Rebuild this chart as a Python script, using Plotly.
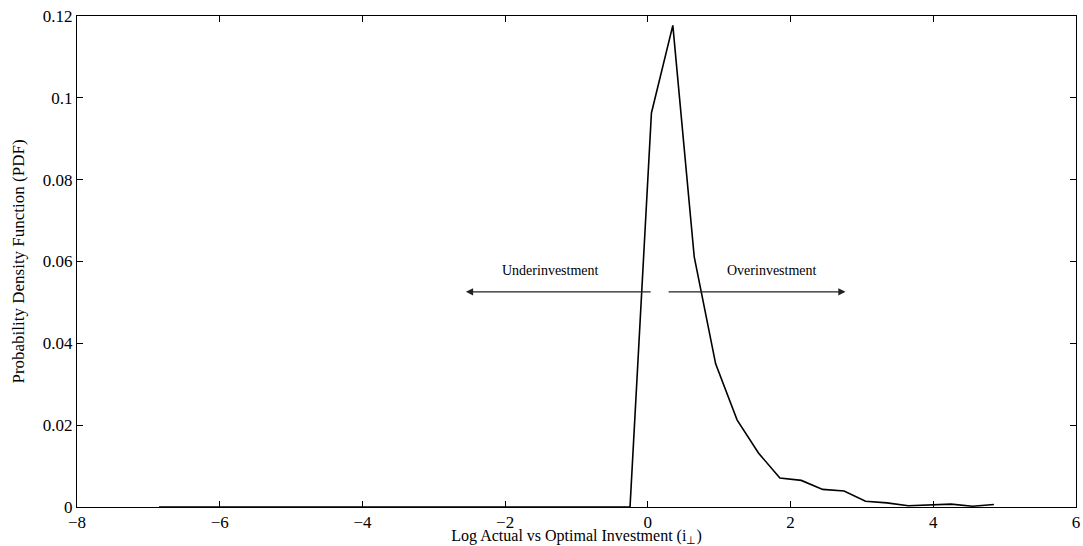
import plotly.graph_objects as go

x_vals = [-6.85, -6.55, -6.25, -5.95, -5.65, -5.35, -5.05, -4.75, -4.45, -4.15,
          -3.85, -3.55, -3.25, -2.95, -2.65, -2.35, -2.05, -1.75, -1.45, -1.15,
          -0.85, -0.55, -0.25, 0.05, 0.35, 0.65, 0.95, 1.25, 1.55, 1.85,
          2.15, 2.45, 2.75, 3.05, 3.35, 3.65, 3.95, 4.25, 4.55, 4.85]
pdf_vals = [0, 0, 0, 0, 0, 0, 0, 0, 0, 0,
            0, 0, 0, 0, 0, 0, 0, 0, 0, 0,
            0, 0, 0, 0.0963, 0.1177, 0.0611, 0.0350, 0.0213, 0.0132, 0.0071,
            0.0065, 0.0043, 0.0039, 0.0014, 0.0010, 0.0003, 0.0005, 0.0007, 0.0002, 0.0006]

x_ticks = [-8, -6, -4, -2, 0, 2, 4, 6]
y_ticks = [0, 0.02, 0.04, 0.06, 0.08, 0.1, 0.12]

arrow_y = 0.0526
label_y = 0.0577
under_arrow = (0.06, -2.55)
over_arrow = (0.27, 2.77)
under_label = ("Underinvestment", -1.36)
over_label = ("Overinvestment", 1.74)

font_family = "Liberation Serif, Times New Roman, serif"

fig = go.Figure()
fig.add_trace(go.Scatter(x=x_vals, y=pdf_vals, mode="lines",
                         line=dict(color="black", width=1.6), showlegend=False))

for (x0, x1) in [under_arrow, over_arrow]:
    fig.add_annotation(x=x1, y=arrow_y, ax=x0, ay=arrow_y, xref="x", yref="y",
                       axref="x", ayref="y", showarrow=True, arrowhead=2,
                       arrowsize=1.2, arrowwidth=1.2, arrowcolor="#222", text="")
for (txt, xp) in [under_label, over_label]:
    fig.add_annotation(x=xp, y=label_y, xref="x", yref="y", text=txt,
                       showarrow=False, font=dict(size=14, color="black", family=font_family))

axis_common = dict(showline=True, linecolor="black", linewidth=1, mirror="ticks",
                   ticks="inside", ticklen=6, tickcolor="black", showgrid=False,
                   zeroline=False, tickfont=dict(size=17, color="black", family=font_family))

fig.update_xaxes(range=[-8, 6], tickvals=x_ticks,
                 title=dict(text="Log Actual vs Optimal Investment (i<sub>\u22a5</sub>)",
                            font=dict(size=16, color="black", family=font_family), standoff=0),
                 **axis_common)
fig.update_yaxes(range=[0, 0.12], tickvals=y_ticks,
                 title=dict(text="Probability Density Function (PDF)",
                            font=dict(size=17, color="black", family=font_family), standoff=13),
                 **axis_common)

fig.update_layout(width=1083, height=546, plot_bgcolor="white", paper_bgcolor="white",
                  margin=dict(l=77, r=7, t=16, b=39, autoexpand=False),
                  font=dict(family=font_family))

fig.write_html("out.html", config={"displayModeBar": False},
               post_script="document.body.style.margin='0';document.body.style.overflow='hidden';")
